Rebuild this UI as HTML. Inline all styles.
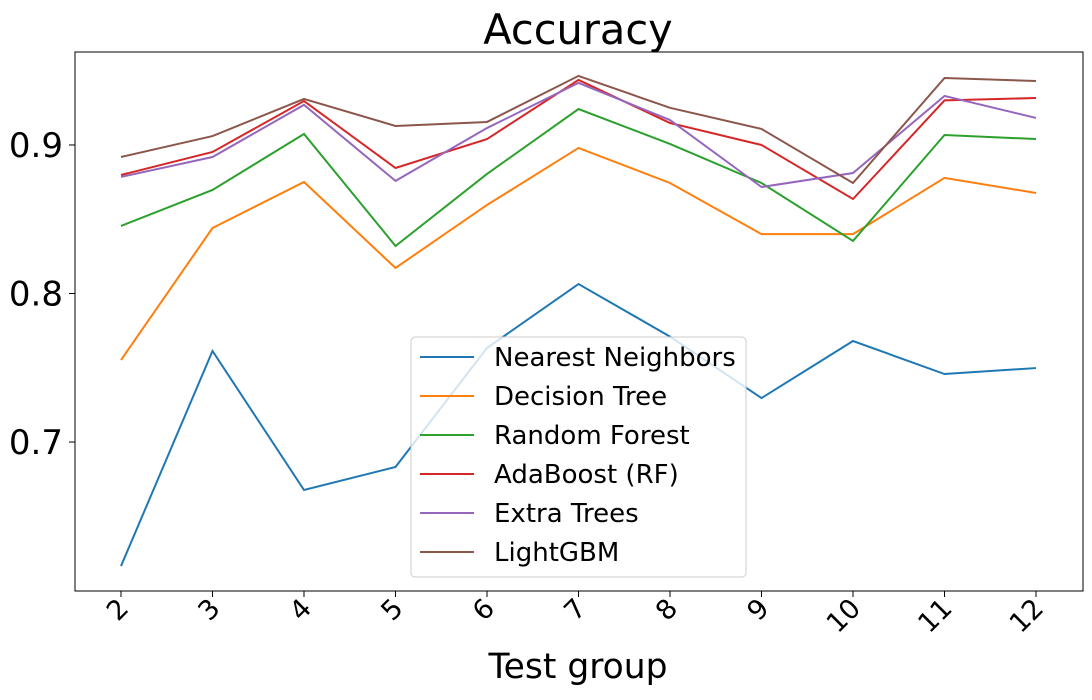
<!DOCTYPE html>
<html><head><meta charset="utf-8"><style>
body{margin:0;background:#fff;}
svg{font-family:"DejaVu Sans","Liberation Sans",sans-serif;}
</style></head><body>
<svg id="chart" width="1092" height="695">
<text x="578" y="44" font-size="41.5" text-anchor="middle">Accuracy</text>
<g id="plot"></g>
<text x="578" y="678" font-size="34.5" text-anchor="middle">Test group</text>
</svg>
<script>
const categories = ["2","3","4","5","6","7","8","9","10","11","12"];
const yTicks = [0.7, 0.8, 0.9];
const seriesNames = ["Nearest Neighbors","Decision Tree","Random Forest","AdaBoost (RF)","Extra Trees","LightGBM"];
const colors = ["#1f77b4","#ff7f0e","#2ca02c","#d62728","#9467bd","#8c564b"];
const nearestNeighbors = [0.6165,0.7613,0.6677,0.6832,0.7633,0.8064,0.771,0.7296,0.768,0.7458,0.7498];
const decisionTree = [0.7552,0.8441,0.8751,0.8172,0.8596,0.898,0.8744,0.840,0.840,0.8778,0.8677];
const randomForest = [0.8455,0.8697,0.9074,0.832,0.8805,0.9242,0.9007,0.8744,0.8354,0.9067,0.904];
const adaBoost = [0.8798,0.8953,0.9296,0.8845,0.904,0.9438,0.9148,0.9,0.8636,0.930,0.9316];
const extraTrees = [0.8785,0.8919,0.927,0.8758,0.9114,0.9418,0.9168,0.8717,0.8811,0.933,0.9182];
const lightGBM = [0.8919,0.906,0.931,0.9128,0.9155,0.9465,0.925,0.9108,0.8744,0.9451,0.9431];
const allSeries = [nearestNeighbors,decisionTree,randomForest,adaBoost,extraTrees,lightGBM];

const NS="http://www.w3.org/2000/svg";
const L=75,R=1083,T=52,B=591;
const yMin=0.5997,yMax=0.9626;
const xS=i=>121+(1036-121)*i/(categories.length-1);
const yS=v=>B-(v-yMin)/(yMax-yMin)*(B-T);
const g=document.getElementById('plot');
function mk(tag,attrs,parent){const e=document.createElementNS(NS,tag);for(const k in attrs)e.setAttribute(k,attrs[k]);(parent||g).appendChild(e);return e;}

allSeries.forEach((s,si)=>{
  const p=mk('polyline',{points:s.map((v,i)=>xS(i)+','+yS(v)).join(' '),fill:'none',stroke:colors[si],'stroke-width':2});
  
  
});
const frame=mk('rect',{x:L,y:T,width:R-L,height:B-T,fill:'none',stroke:'#000','stroke-width':1});


yTicks.forEach(t=>{
  const y=yS(t);
  mk('line',{x1:L-6,x2:L,y1:y,y2:y,stroke:'#000'});
  const tx=mk('text',{x:L-12,y:y+12,'font-size':34,'text-anchor':'end'});
  tx.textContent=t.toFixed(1);
  
  
});
categories.forEach((c,i)=>{
  const x=xS(i);
  mk('line',{x1:x,x2:x,y1:B,y2:B+6,stroke:'#000'});
  const tx=mk('text',{x:x+9,y:B+19,'font-size':27,'text-anchor':'end',transform:`rotate(-45 ${x+9} ${B+19})`});
  tx.textContent=c;
  
  
});
const lg=mk('g',{});


mk('rect',{x:411,y:337,width:335,height:240,rx:4,fill:'#fff','fill-opacity':0.8,stroke:'#ccc'},lg);
seriesNames.forEach((n,i)=>{
  const y=357+i*39;
  const e=mk('g',{},lg);
  
  
  mk('line',{x1:420,x2:474,y1:y,y2:y,stroke:colors[i],'stroke-width':2},e);
  const t=mk('text',{x:494,y:y+9,'font-size':26},e);
  t.textContent=n;
});
</script>
</body></html>
